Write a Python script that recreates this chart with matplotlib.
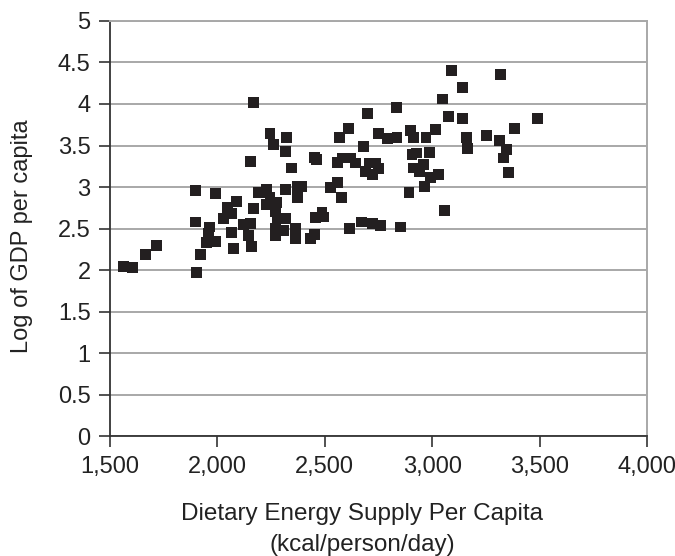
import matplotlib
matplotlib.use("Agg")
import matplotlib.pyplot as plt
from matplotlib.ticker import FuncFormatter, MultipleLocator

# Dietary energy supply (kcal/person/day) and log of GDP per capita by country
energy_supply = [
    1564, 1606, 1664, 1716, 1896, 1896, 1903, 1920, 1990, 1962,
    1960, 1949, 1990, 2091, 2045, 2068, 2029, 2168, 2192, 2066,
    2075, 2122, 2153, 2143, 2160, 2167, 2152, 2245, 2262, 2322,
    2315, 2347, 2205, 2230, 2245, 2276, 2230, 2269, 2319, 2371,
    2394, 2372, 2316, 2278, 2270, 2270, 2308, 2363, 2363, 2456,
    2487, 2494, 2433, 2452, 2526, 2559, 2578, 2613, 2673, 2724,
    2758, 2851, 2892, 2453, 2460, 2570, 2612, 2698, 2835, 2679,
    2749, 2790, 2836, 2558, 2584, 2620, 2643, 2706, 2735, 2689,
    2750, 2722, 2906, 2911, 3090, 3320, 3142, 3047, 3074, 3142,
    3491, 3381, 3014, 2897, 2913, 2971, 3160, 3253, 3312, 3164,
    3348, 3330, 3355, 2987, 2926, 2959, 2943, 2990, 3029, 2963,
    3056,
]
log_gdp = [
    2.05, 2.03, 2.19, 2.30, 2.96, 2.58, 1.97, 2.19, 2.92, 2.52,
    2.44, 2.33, 2.34, 2.83, 2.75, 2.68, 2.62, 2.74, 2.93, 2.45,
    2.26, 2.55, 2.56, 2.42, 2.28, 4.02, 3.31, 3.65, 3.51, 3.60,
    3.43, 3.23, 2.93, 2.97, 2.88, 2.82, 2.79, 2.70, 2.97, 3.01,
    3.01, 2.88, 2.62, 2.62, 2.50, 2.42, 2.48, 2.50, 2.38, 2.63,
    2.70, 2.64, 2.38, 2.43, 2.99, 3.05, 2.88, 2.50, 2.58, 2.56,
    2.54, 2.52, 2.94, 3.36, 3.33, 3.60, 3.71, 3.89, 3.96, 3.49,
    3.65, 3.58, 3.60, 3.30, 3.35, 3.35, 3.29, 3.29, 3.29, 3.19,
    3.22, 3.15, 3.39, 3.23, 4.40, 4.36, 4.20, 4.06, 3.85, 3.82,
    3.82, 3.71, 3.69, 3.68, 3.60, 3.60, 3.60, 3.62, 3.56, 3.47,
    3.45, 3.35, 3.18, 3.42, 3.41, 3.27, 3.19, 3.11, 3.15, 3.01,
    2.72,
]

x_ticks = [1500, 2000, 2500, 3000, 3500, 4000]

plt.rcParams["font.family"] = ["Liberation Sans", "DejaVu Sans"]

fig = plt.figure(figsize=(6.75, 5.56), dpi=100)
ax = fig.add_axes([0.16296, 0.21511, 0.79556, 0.74730])

ax.scatter(energy_supply, log_gdp, marker="s", s=62, color="#231f20",
           edgecolors="none", zorder=3)

ax.set_xlim(1500, 4000)
ax.set_ylim(0, 5)
ax.set_xticks(x_ticks)
ax.yaxis.set_major_locator(MultipleLocator(0.5))
ax.xaxis.set_major_formatter(FuncFormatter(lambda v, p: f"{int(v):,}"))
ax.yaxis.set_major_formatter(FuncFormatter(lambda v, p: f"{v:g}"))

ax.grid(axis="y", color="#a8a8a8", linewidth=1.4, zorder=0)
ax.set_axisbelow(True)

for side in ("left", "bottom"):
    ax.spines[side].set_color("#333333")
    ax.spines[side].set_linewidth(1.3)
ax.spines["right"].set_color("#a8a8a8")
ax.spines["right"].set_linewidth(1.4)
ax.spines["top"].set_color("#a8a8a8")
ax.spines["top"].set_linewidth(1.4)

ax.tick_params(axis="both", direction="out", length=8, width=1.2,
               color="#333333", labelsize=17, labelcolor="#222222")
ax.tick_params(axis="x", pad=6)
ax.tick_params(axis="y", pad=6)

fig.text(0.5363, 1 - 514 / 556, "Dietary Energy Supply Per Capita",
         ha="center", va="center", fontsize=17.5, color="#222222")
fig.text(0.5363, 1 - 545 / 556, "(kcal/person/day)",
         ha="center", va="center", fontsize=17.5, color="#222222")
fig.text(22 / 675, 1 - 236 / 556, "Log of GDP per capita", rotation=90,
         ha="center", va="center", fontsize=17, color="#222222")

fig.savefig("out.png", dpi=100)
